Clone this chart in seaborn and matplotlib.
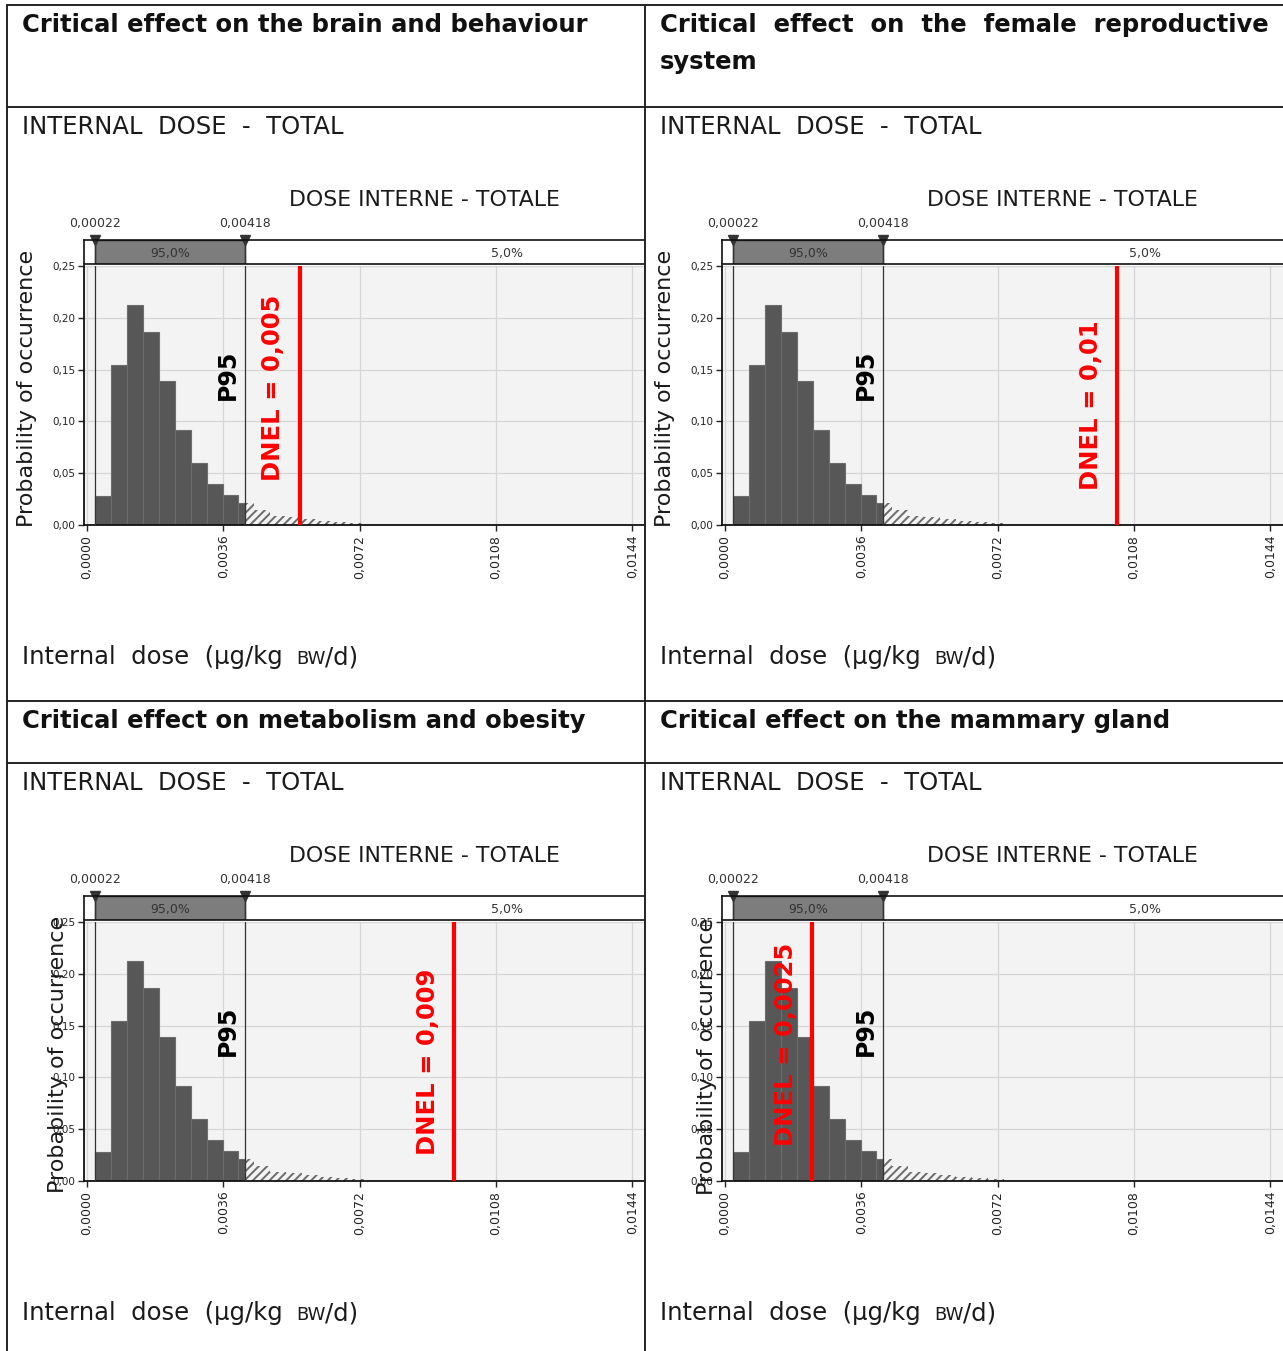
import numpy as np
import pandas as pd
import matplotlib
matplotlib.use('Agg')
import matplotlib.pyplot as plt
from matplotlib.patches import Rectangle
import seaborn as sns

# ---- data ----
headers = ['Critical effect on the brain and behaviour',
           'Critical  effect  on  the  female  reproductive\nsystem',
           'Critical effect on metabolism and obesity',
           'Critical effect on the mammary gland']
section_title = 'INTERNAL  DOSE  -  TOTAL'
chart_title = 'DOSE INTERNE - TOTALE'
ylabel = 'Probability of occurrence'

bin_start = 0.00022
bin_width = 0.00042
prob = [0.028, 0.154, 0.212, 0.186, 0.139, 0.092, 0.060, 0.040, 0.029,
        0.021, 0.014, 0.009, 0.008, 0.006, 0.004, 0.003, 0.002]

p_low, p95 = 0.00022, 0.00418
p_low_label, p95_label = '0,00022', '0,00418'
share_labels = ['95,0%', '5,0%']

dnel_labels = ['DNEL = 0,005', 'DNEL = 0,01', 'DNEL = 0,009', 'DNEL = 0,0025']
dnel_x = [0.00562, 0.01036, 0.0097, 0.0023]

xticks = [0.0, 0.0036, 0.0072, 0.0108, 0.0144]
xtick_labels = ['0,0000', '0,0036', '0,0072', '0,0108', '0,0144']
yticks = [0.0, 0.05, 0.10, 0.15, 0.20, 0.25]
ytick_labels = ['0,00', '0,05', '0,10', '0,15', '0,20', '0,25']

# ---- layout (pixels) ----
W, H = 1283, 1351
sns.set_style('white')
plt.rcParams['font.family'] = ['DejaVu Sans']
plt.rcParams['hatch.linewidth'] = 1.4

fig = plt.figure(figsize=(W / 100, H / 100), dpi=100)


def px_axes(x0, y0, x1, y1, **kw):
    return fig.add_axes([x0 / W, 1 - y1 / H, (x1 - x0) / W, (y1 - y0) / H], **kw)


cells = [(0, 5, 107), (638, 5, 107), (0, 701, 763), (638, 701, 763)]
ylab_pos = [(27, 281), (27, 281), (58, 291), (69, 293)]
dnel_y = [0.132, 0.116, 0.115, 0.132]
xlim = (-0.00008, 0.01474)
txt = '#1a1a1a'

n = len(prob)
hist_df = pd.DataFrame({'dose': bin_start + bin_width * (np.arange(n) + 0.5), 'prob': prob})
bin_range = (bin_start, bin_start + bin_width * n)

tab = px_axes(0, 0, W, H, zorder=20)
tab.set_xlim(0, W)
tab.set_ylim(H, 0)
tab.axis('off')
tab.patch.set_visible(False)

for i, (dx, top, y0) in enumerate(cells):
    ax = px_axes(84 + dx, y0 + 159, 645 + dx, y0 + 418)
    bar = px_axes(84 + dx, y0 + 133, 645 + dx, y0 + 157)

    sns.histplot(data=hist_df, x='dose', weights='prob', binwidth=bin_width,
                 binrange=bin_range, ax=ax, color='#575757', alpha=1,
                 edgecolor='#6c6c6c', linewidth=0.8, zorder=2)
    for patch in list(ax.patches):
        x, w, h = patch.get_x(), patch.get_width(), patch.get_height()
        if x + w > p95:
            cut = max(x, p95)
            ax.add_patch(Rectangle((cut, 0), x + w - cut, h, facecolor='none',
                                   edgecolor='#6a6a6a', hatch='////', lw=0, zorder=2))
            if x >= p95:
                patch.remove()
            else:
                patch.set_width(p95 - x)

    ax.set_facecolor('#f3f3f3')
    ax.set_xlim(*xlim)
    ax.set_ylim(0, 0.25)
    ax.set_xlabel('')
    ax.set_ylabel('')
    ax.set_xticks(xticks, xtick_labels, rotation=90, fontsize=9, color=txt)
    ax.set_yticks(yticks, ytick_labels, fontsize=7.5, color=txt)
    ax.tick_params(axis='both', direction='out', length=4, width=1, pad=3, colors='#222222',
                   bottom=True, left=True)
    ax.tick_params(axis='y', pad=2)
    ax.grid(True, color='#d6d6d6', lw=0.9)
    ax.set_axisbelow(True)
    for s in ['top', 'right']:
        ax.spines[s].set_visible(False)
    for s in ['left', 'bottom']:
        ax.spines[s].set_color('#111111')
        ax.spines[s].set_linewidth(1.3)

    ax.axvline(p_low, color='#333333', lw=0.9, zorder=3)
    ax.axvline(p95, color='#333333', lw=0.9, zorder=3)
    ax.text(p95 - 0.00045, 0.145, 'P95', rotation=90, fontsize=17, fontweight='bold',
            ha='center', va='center', color='black', zorder=5)
    ax.axvline(dnel_x[i], color='#ff0000', lw=3, zorder=4)
    ax.text(dnel_x[i] - 0.0007, dnel_y[i], dnel_labels[i], rotation=90, fontsize=17.5,
            fontweight='bold', ha='center', va='center', color='#ff0000', zorder=5)

    # percentile strip above the chart
    bar.set_xlim(*xlim)
    bar.set_ylim(0, 1)
    bar.set_xticks([])
    bar.set_yticks([])
    bar.add_patch(Rectangle((p_low, 0), p95 - p_low, 1, facecolor='#7d7d7d',
                            edgecolor='#222222', lw=1))
    bar.text((p_low + p95) / 2, 0.45, share_labels[0], fontsize=9, ha='center',
             va='center', color='#333333')
    bar.text(0.0111, 0.45, share_labels[1], fontsize=9, ha='center', va='center',
             color='#333333')
    bar.axvline(p_low, color='#333333', lw=0.9)
    bar.axvline(p95, color='#333333', lw=0.9)
    bar.plot([p_low, p95], [1, 1], 'v', color='#333333', ms=7, clip_on=False)
    bar.text(p_low, 1.7, p_low_label, fontsize=9, ha='center', va='center', color='#333333')
    bar.text(p95, 1.7, p95_label, fontsize=9, ha='center', va='center', color='#333333')
    bar.spines['right'].set_visible(False)
    for s in ['top', 'left', 'bottom']:
        bar.spines[s].set_color('#111111')
        bar.spines[s].set_linewidth(1.2)

    # texts of the table cell
    for k, line in enumerate(headers[i].split('\n')):
        tab.text(22 + dx, top + 27 + 37 * k, line, fontsize=17.5, fontweight='bold',
                 va='baseline', ha='left', color='#111111')
    tab.text(22 + dx, y0 + 27, section_title, fontsize=17.5, va='baseline', ha='left',
             color=txt)
    tab.text(289 + dx, y0 + 99, chart_title, fontsize=15.8, va='baseline', ha='left',
             color=txt)
    lx, ly = ylab_pos[i]
    tab.text(lx + dx, y0 + ly, ylabel, fontsize=16, rotation=90, va='center', ha='center',
             color=txt)
    t1 = tab.text(22 + dx, y0 + 557, 'Internal  dose  (µg/kg', fontsize=17.5,
                  va='baseline', ha='left', color=txt)
    fig.canvas.draw()
    r = fig.canvas.get_renderer()
    x1 = t1.get_window_extent(r).x1
    t2 = tab.text(x1 + 13, y0 + 557, 'BW', fontsize=13, va='baseline', ha='left',
                  color=txt)
    x2 = t2.get_window_extent(r).x1
    tab.text(x2, y0 + 557, '/d)', fontsize=17.5, va='baseline', ha='left', color=txt)

# table rules
lc, lw = '#222222', 1.4
for y in [5, 107, 701, 763]:
    tab.plot([7, W], [y, y], color=lc, lw=lw)
for x in [7, 645]:
    tab.plot([x, x], [5, H], color=lc, lw=lw)

fig.savefig('out.png', dpi=100)
